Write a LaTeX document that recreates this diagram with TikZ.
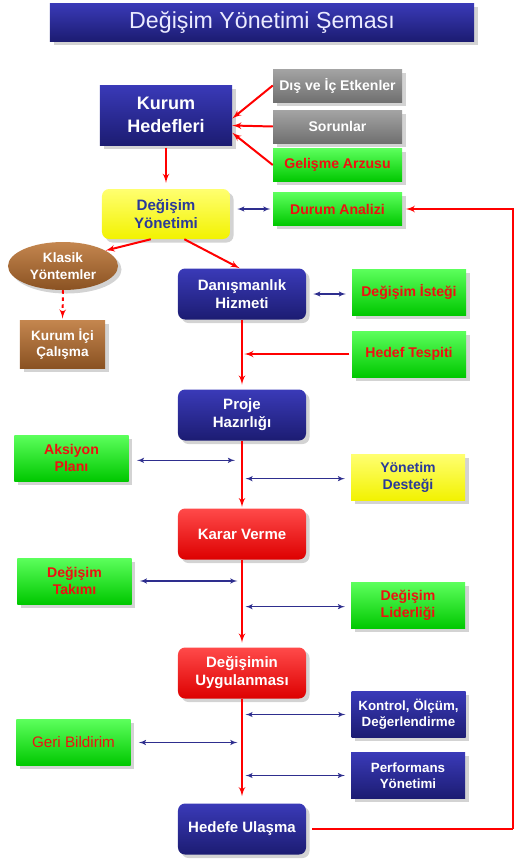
\documentclass[tikz,border=0pt]{standalone}
\usepackage{fontspec}
\setmainfont{Liberation Sans}
\usepackage{tikz}
\usetikzlibrary{arrows,shapes.geometric,shadows}
\definecolor{navyT}{HTML}{3A3AB8}
\definecolor{navyB}{HTML}{1C1C72}
\definecolor{grayT}{HTML}{A4A4A4}
\definecolor{grayB}{HTML}{707070}
\definecolor{greenT}{HTML}{5CFF5C}
\definecolor{greenB}{HTML}{00C800}
\definecolor{yellowT}{HTML}{FFFF70}
\definecolor{yellowB}{HTML}{F2F200}
\definecolor{redT}{HTML}{FF4A4A}
\definecolor{redB}{HTML}{DD0000}
\definecolor{brownT}{HTML}{C4864F}
\definecolor{brownB}{HTML}{8A5222}
\definecolor{textred}{HTML}{EE1111}
\definecolor{textblue}{HTML}{2A3A9A}
\definecolor{arrowblue}{HTML}{2E2E8E}
\tikzstyle{base} = [draw=none, align=center, font=\bfseries, drop shadow={opacity=0.35, shadow xshift=3pt, shadow yshift=-3pt}]
\tikzstyle{block} = [base, rectangle, top color=navyT, bottom color=navyB, text=white]
\tikzstyle{flow} = [block, rounded corners=6pt, minimum width=3.84cm, minimum height=1.53cm, font=\bfseries\fontsize{12.8}{15.4}\selectfont]
\tikzstyle{redflow} = [flow, top color=redT, bottom color=redB]
\tikzstyle{graybox} = [base, rectangle, top color=grayT, bottom color=grayB, text=white, minimum width=3.87cm, minimum height=0.99cm, font=\bfseries\fontsize{12}{14}\selectfont]
\tikzstyle{greenbox} = [graybox, top color=greenT, bottom color=greenB, text=textred]
\tikzstyle{sidebox} = [base, rectangle, minimum width=3.42cm, minimum height=1.38cm, font=\bfseries\fontsize{12}{14.8}\selectfont]
\tikzstyle{greenside} = [sidebox, top color=greenT, bottom color=greenB, text=textred]
\tikzstyle{yellowside} = [sidebox, top color=yellowT, bottom color=yellowB, text=textblue]
\tikzstyle{navyside} = [sidebox, top color=navyT, bottom color=navyB, text=white, font=\bfseries\fontsize{11.4}{14}\selectfont]
\tikzstyle{cloud} = [base, ellipse, top color=brownT, bottom color=brownB, text=white, minimum width=3.3cm, minimum height=1.44cm, inner sep=0pt, font=\bfseries\fontsize{11.6}{14.2}\selectfont]
\tikzstyle{brownbox} = [base, rectangle, top color=brownT, bottom color=brownB, text=white, minimum width=2.55cm, minimum height=1.44cm, inner sep=1pt, font=\bfseries\fontsize{11.6}{14.2}\selectfont]
\tikzstyle{line} = [draw, -latex', red, line width=1.7pt]
\tikzstyle{twoway} = [draw, latex'-latex', arrowblue, line width=1.1pt]

\begin{document}
\begin{tikzpicture}[x=0.03cm, y=-0.03cm]
    \useasboundingbox (0,0) rectangle (518,864);
    % title
    \node [base, rectangle, top color=navyT, bottom color=navyB, text=white!92!blue, minimum width=12.72cm, minimum height=1.14cm, font=\fontsize{19.8}{23}\selectfont] (title) at (262,22) {Değişim Yönetimi Şeması};
    % top part
    \node [block, minimum width=3.96cm, minimum height=1.8cm, font=\bfseries\fontsize{15.4}{19.5}\selectfont] (kurum) at (166,115) {Kurum\\Hedefleri};
    \node [graybox] (etken) at (337.5,85.5) {Dış ve İç Etkenler};
    \node [graybox] (sorun) at (337.5,126.5) {Sorunlar};
    \node [greenbox] (arzu) at (337.5,165) {Gelişme Arzusu};
    \node [base, rectangle, rounded corners=6pt, top color=yellowT, bottom color=yellowB, text=textblue, minimum width=3.84cm, minimum height=1.5cm, font=\bfseries\fontsize{12.9}{15.5}\selectfont] (yonetim) at (166,214) {Değişim\\Yönetimi};
    \node [greenbox] (durum) at (337.5,209) {Durum Analizi};
    % left branch
    \node [cloud] (klasik) at (63,266) {Klasik\\Yöntemler};
    \node [brownbox] (kurumici) at (62.5,344) {Kurum İçi\\Çalışma};
    % main flow
    \node [flow] (danis) at (242,294) {Danışmanlık\\Hizmeti};
    \node [flow] (proje) at (242,415) {Proje\\Hazırlığı};
    \node [redflow] (karar) at (242,534) {Karar Verme};
    \node [redflow] (uygula) at (242,673) {Değişimin\\Uygulanması};
    \node [flow] (hedefe) at (242,829) {Hedefe Ulaşma};
    % side boxes
    \node [greenside] (istek) at (409,292) {Değişim İsteği};
    \node [greenside] (tespit) at (409,354) {Hedef Tespiti};
    \node [greenside] (aksiyon) at (71.5,458) {Aksiyon\\Planı};
    \node [yellowside] (destek) at (408,477.5) {Yönetim\\Desteği};
    \node [greenside] (takim) at (74.5,581) {Değişim\\Takımı};
    \node [greenside] (lider) at (408,605.5) {Değişim\\Liderliği};
    \node [navyside] (kontrol) at (408.5,714.5) {Kontrol, Ölçüm,\\Değerlendirme};
    \node [greenside, font=\fontsize{13}{15.5}\selectfont] (geri) at (73.5,742.5) {Geri Bildirim};
    \node [navyside] (perf) at (408,775.5) {Performans\\Yönetimi};
    \coordinate (loop) at (513,829);

    \path [line] (etken.west) -- (kurum.-3);
    \path [line] (sorun.west) -- (kurum.-9.5);
    \path [line] (arzu.west) -- (kurum.-15);
    \path [line, shorten <=2pt, shorten >=5pt] (kurum.south) -- (yonetim.north);
    \path [twoway, shorten <=6pt, shorten >=2pt] (durum.west -| yonetim.east) -- (durum.west);
    \path [line] (yonetim.239) -- (klasik.20);
    \path [line] (yonetim.306) -- (danis.95);
    \path [line, dashed, shorten >=1pt] (klasik.south) -- (kurumici.north);
    \path [twoway, shorten <=6pt, shorten >=5pt] (danis.east) -- (danis.east -| istek.west);
    \path [line, shorten >=4pt] (danis.south) -- (proje.north);
    \path [line, shorten <=2pt, shorten >=2pt] (tespit.west) -- (tespit.west -| danis.south);
    \path [line, shorten >=1pt] (proje.south) -- (karar.north);
    \path [line, shorten >=4pt] (karar.south) -- (uygula.north);
    \path [line, shorten >=6pt] (uygula.south) -- (hedefe.north);
    \path [twoway, shorten <=7pt, shorten >=6pt] ([yshift=-2pt]aksiyon.east) -- ([yshift=-2pt]aksiyon.east -| proje.south);
    \path [twoway, shorten <=3pt, shorten >=5pt] ([yshift=-1pt]destek.west -| proje.south) -- ([yshift=-1pt]destek.west);
    \path [twoway, shorten <=7pt, shorten >=4pt] (takim.east) -- (takim.east -| karar.south);
    \path [twoway, shorten <=3pt, shorten >=5pt] ([yshift=-1pt]lider.west -| karar.south) -- ([yshift=-1pt]lider.west);
    \path [twoway, shorten <=3pt, shorten >=5pt] (kontrol.west -| uygula.south) -- (kontrol.west);
    \path [twoway, shorten <=7pt, shorten >=4pt] (geri.east) -- (geri.east -| uygula.south);
    \path [twoway, shorten <=3pt, shorten >=5pt] (perf.west -| uygula.south) -- (perf.west);
    \path [line, -, shorten <=5pt] (hedefe.east) -- (loop);
    \path [line, shorten >=3pt] (loop) |- (durum.east);
\end{tikzpicture}
\end{document}
